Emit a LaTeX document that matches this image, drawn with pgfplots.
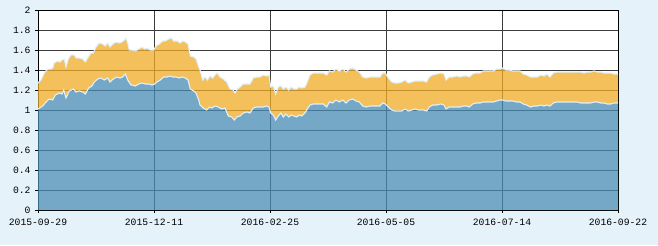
\documentclass[border=0pt]{standalone}
\usepackage{fontspec}
\setmonofont{Liberation Mono}
\usepackage{pgfplots}
\pgfplotsset{compat=1.18}
\usepackage{pgfplotstable}
\usepgfplotslibrary{fillbetween}
\definecolor{bgc}{RGB}{230,242,250}
\definecolor{orangec}{RGB}{240,171,38}
\definecolor{bluec}{RGB}{71,140,179}
\definecolor{linec}{RGB}{225,240,250}
\definecolor{gridc}{RGB}{60,60,60}
\pagecolor{bgc}

\pgfplotstableread{
x v
0 1.27
3 1.30
6.3 1.37
9.7 1.41
13 1.41
14.7 1.42
16.3 1.47
19.7 1.49
22 1.48
24 1.50
26.3 1.51
28 1.43
30.3 1.51
33 1.55
36.3 1.55
38 1.52
41.3 1.52
44.7 1.51
47.3 1.48
49.7 1.52
53 1.57
55.3 1.57
58 1.63
61.3 1.67
64.7 1.66
67.3 1.64
69.7 1.67
72 1.63
74.7 1.66
78 1.68
81.3 1.67
84 1.68
86.3 1.70
88 1.72
89.7 1.67
91.3 1.60
94 1.60
97.3 1.59
100.7 1.61
104 1.63
106.7 1.61
109 1.62
112.3 1.60
115.7 1.60
118 1.64
121.3 1.66
124.7 1.69
127.3 1.69
130.7 1.71
133.3 1.72
135.7 1.69
139 1.69
142.3 1.67
144.7 1.69
147.3 1.68
150 1.66
152.3 1.54
155.7 1.53
158 1.51
160.7 1.43
162 1.40
164.7 1.30
167 1.33
169.3 1.30
172 1.34
174.7 1.32
177 1.35
179.3 1.37
182 1.33
185.3 1.31
188.7 1.28
192 1.21
195.3 1.20
197 1.17
199.3 1.21
202 1.23
205.3 1.26
208.7 1.26
212 1.26
215.3 1.32
218.7 1.33
222 1.33
225.3 1.35
228.7 1.34
231 1.35
232.7 1.23
235.3 1.24
237.7 1.16
240.3 1.23
243 1.24
245.3 1.21
248 1.23
250.7 1.20
253.3 1.23
256 1.21
258.7 1.21
261.3 1.23
263.7 1.22
267 1.23
269.3 1.28
272 1.35
275.3 1.37
278.7 1.37
282 1.37
285.3 1.37
288.7 1.35
291.3 1.39
294.7 1.38
298 1.41
301.3 1.39
304.7 1.41
308 1.38
311.3 1.41
314.7 1.42
318 1.40
321.3 1.38
324.7 1.33
328 1.32
332 1.33
335.3 1.33
338.7 1.33
342 1.33
344.7 1.37
347.3 1.37
350.3 1.32
353.7 1.28
357 1.27
360.3 1.27
363.7 1.28
367 1.30
370.3 1.27
373.7 1.28
377 1.29
380.3 1.29
382 1.29
385.3 1.29
388.7 1.28
391.3 1.33
394.7 1.35
398.7 1.36
402.7 1.37
406 1.36
408 1.30
411.3 1.33
414.7 1.33
418.7 1.34
422 1.33
425.3 1.34
428.7 1.34
431.3 1.33
434.7 1.36
438 1.37
442 1.37
445.3 1.39
448.7 1.39
452 1.39
455.3 1.39
458.7 1.41
462 1.41
464.7 1.42
468 1.40
471.3 1.40
474.7 1.39
478.7 1.39
482 1.39
485.3 1.36
488.7 1.35
492.7 1.33
496 1.33
499.3 1.33
502.7 1.35
506 1.34
508.7 1.36
512 1.33
515.3 1.37
518.7 1.38
522 1.38
526 1.38
529.3 1.38
532.7 1.38
536 1.38
539.3 1.38
542.7 1.38
546 1.37
549.3 1.38
552.7 1.38
556 1.39
559.3 1.38
562.7 1.38
566 1.37
569.3 1.37
572.7 1.37
576 1.36
580 1.36
}\orangedata

\pgfplotstableread{
x v
0 1.01
4.7 1.04
8 1.08
11.3 1.11
14.7 1.10
17.3 1.15
21.3 1.17
24 1.16
25.7 1.20
28 1.12
31.3 1.19
35.3 1.21
38 1.18
41.3 1.19
44.7 1.18
47.3 1.16
50.7 1.22
54 1.24
56.3 1.28
59.7 1.31
63 1.32
66.3 1.30
69.7 1.32
72 1.28
75.3 1.31
78.7 1.33
82 1.32
84.7 1.33
87.3 1.36
89.7 1.30
93 1.25
94 1.25
97.3 1.24
100.7 1.26
104 1.27
107.3 1.26
110.7 1.26
114 1.25
116.7 1.26
119 1.28
122.3 1.30
125.7 1.33
129 1.33
132.3 1.34
134.7 1.33
138 1.33
141.3 1.32
144 1.33
147.3 1.32
150 1.30
152.3 1.21
155.7 1.19
158 1.17
160.7 1.10
162 1.05
165.3 1.02
168.7 1.00
171.3 1.03
173.7 1.02
177 1.04
180.3 1.03
183.7 1.01
187 1.02
190.3 0.94
193.7 0.93
196.3 0.90
198.7 0.93
202 0.94
205.3 0.97
208.7 0.98
212 0.97
215.3 1.02
218.7 1.03
222 1.03
225.3 1.03
228.7 1.04
231 1.03
232.7 0.97
235.3 0.95
237.7 0.90
240.3 0.94
243 0.97
245.3 0.93
248 0.96
250.7 0.93
253.3 0.95
256 0.94
258.7 0.93
261.3 0.95
263.7 0.94
267 0.97
269.3 1.01
272 1.05
275.3 1.06
278.7 1.06
282 1.06
285.3 1.06
288.7 1.03
291.3 1.08
294.7 1.07
298 1.10
301.3 1.08
304.7 1.10
308 1.07
311.3 1.10
314.7 1.11
318 1.09
321.3 1.08
324.7 1.04
328 1.03
332 1.04
335.3 1.04
338.7 1.04
342 1.04
344.7 1.07
347.3 1.06
350.3 1.03
353.7 1.00
357 0.99
360.3 0.99
363.7 0.99
367 1.01
370.3 0.99
373.7 1.00
377 1.01
380.3 1.00
382 1.00
385.3 1.00
388.7 0.99
391.3 1.03
394.7 1.05
398.7 1.05
402.7 1.06
406 1.05
408 1.01
411.3 1.03
414.7 1.03
418.7 1.03
422 1.03
425.3 1.04
428.7 1.04
431.3 1.03
434.7 1.06
438 1.07
442 1.07
445.3 1.08
448.7 1.08
452 1.08
455.3 1.08
458.7 1.09
462 1.10
464.7 1.10
468 1.09
471.3 1.09
474.7 1.09
478.7 1.08
482 1.08
485.3 1.06
488.7 1.05
492.7 1.03
496 1.04
499.3 1.04
502.7 1.05
506 1.04
508.7 1.05
512 1.04
515.3 1.07
518.7 1.08
522 1.08
526 1.08
529.3 1.08
532.7 1.08
536 1.08
539.3 1.08
542.7 1.07
546 1.07
549.3 1.07
552.7 1.07
556 1.08
559.3 1.08
562.7 1.07
566 1.07
569.3 1.06
572.7 1.06
576 1.07
580 1.07
}\bluedata

\begin{document}
\begin{tikzpicture}
\begin{axis}[
  at={(0,0)}, anchor=south west,
  scale only axis,
  width=580pt, height=200pt,
  xmin=0, xmax=580, ymin=0, ymax=2,
  axis background/.style={fill=white},
  xtick={0,116,232,348,464,580},
  xticklabels={2015-09-29,2015-12-11,2016-02-25,2016-05-05,2016-07-14,2016-09-22},
  ytick={0,0.2,0.4,0.6,0.8,1,1.2,1.4,1.6,1.8,2},
  yticklabels={0,0.2,0.4,0.6,0.8,1,1.2,1.4,1.6,1.8,2},
  tick label style={font=\ttfamily\fontsize{9.7}{10}\selectfont, text=black},
  xtick pos=left, ytick pos=left,
  tick align=outside,
  major tick length=3pt,
  tick style={black, line width=0.8pt},
  xticklabel style={yshift=-2pt},
  yticklabel style={xshift=-1pt},
  grid=major,
  major grid style={gridc, line width=0.9pt},
  axis line style={black, line width=1pt},
  clip=false,
]
\path (rel axis cs:-0.065517,-0.175) rectangle (rel axis cs:1.068966,1.05);
\addplot[draw=none, fill=bluec, fill opacity=0.75] table[x=x,y=v] {\bluedata} \closedcycle;
\addplot[name path=o, draw=linec, line width=1.1pt] table[x=x,y=v] {\orangedata};
\addplot[name path=b, draw=linec, line width=1.1pt] table[x=x,y=v] {\bluedata};
\addplot[orangec, fill opacity=0.75] fill between[of=o and b];
\end{axis}
\end{tikzpicture}
\end{document}
